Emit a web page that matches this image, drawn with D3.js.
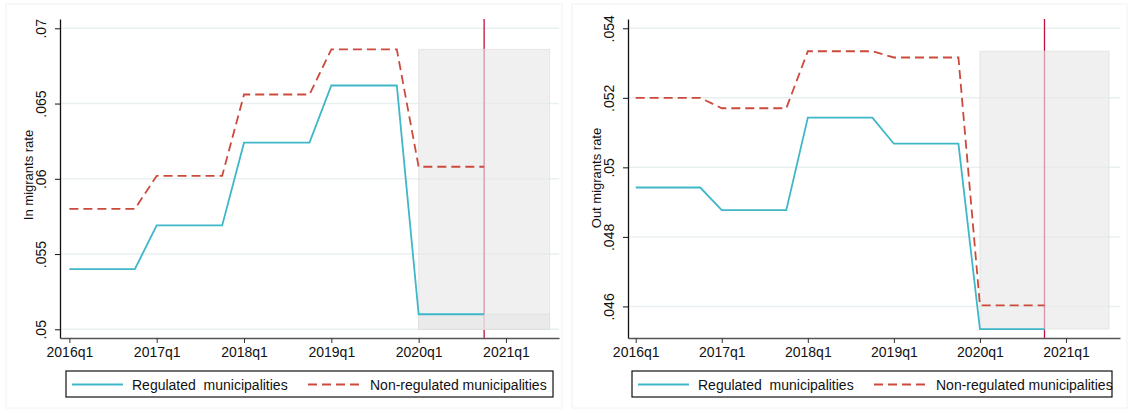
<!DOCTYPE html>
<html>
<head>
<meta charset="utf-8">
<script src="https://cdn.jsdelivr.net/npm/d3@7"></script>
<style>
  body { margin: 0; background: #fff; }
  svg { display: block; font-family: "Liberation Sans", Arial, sans-serif; }
</style>
</head>
<body>
<svg id="chart" width="1131" height="414"></svg>
<script>
// -- Data ----------------------------------------------------
// quarter index 0 = 2016q1
const quarters = d3.range(0, 20);
const xTickValues = [0, 4, 8, 12, 16, 20];
const xTickLabels = ["2016q1", "2017q1", "2018q1", "2019q1", "2020q1", "2021q1"];

const inRegulated = [
  0.0540, 0.0540, 0.0540, 0.0540,
  0.0569, 0.0569, 0.0569, 0.0569,
  0.0624, 0.0624, 0.0624, 0.0624,
  0.0662, 0.0662, 0.0662, 0.0662,
  0.0510, 0.0510, 0.0510, 0.0510
];
const inNonRegulated = [
  0.0580, 0.0580, 0.0580, 0.0580,
  0.0602, 0.0602, 0.0602, 0.0602,
  0.0656, 0.0656, 0.0656, 0.0656,
  0.0686, 0.0686, 0.0686, 0.0686,
  0.0608, 0.0608, 0.0608, 0.0608
];
const outRegulated = [
  0.04942, 0.04942, 0.04942, 0.04942,
  0.04877, 0.04877, 0.04877, 0.04877,
  0.05143, 0.05143, 0.05143, 0.05143,
  0.05068, 0.05068, 0.05068, 0.05068,
  0.04535, 0.04535, 0.04535, 0.04535
];
const outNonRegulated = [
  0.05200, 0.05200, 0.05200, 0.05200,
  0.05170, 0.05170, 0.05170, 0.05170,
  0.05334, 0.05334, 0.05334, 0.05334,
  0.05316, 0.05316, 0.05316, 0.05316,
  0.04603, 0.04603, 0.04603, 0.04603
];

const inTicks = [0.05, 0.055, 0.06, 0.065, 0.07];
const inTickLabels = [".05", ".055", ".06", ".065", ".07"];
const outTicks = [0.046, 0.048, 0.05, 0.052, 0.054];
const outTickLabels = [".046", ".048", ".05", ".052", ".054"];

// shaded period 2020q1..2021q3, marker line at 2020q4
const shadeX = [16, 22];
const markerQuarter = 19;
const inShades = [[0.0500, 0.0686], [0.0500, 0.0510]];
const outShades = [[0.04535, 0.05334]];

const seriesNames = ["Regulated  municipalities", "Non-regulated municipalities"];

// -- Styles --------------------------------------------------
const TEAL = "#3fb7c8";
const RED = "#cc4a3c";
const MARKER = "#c0103c";
const GRID = "#e9f0f1";

const svg = d3.select("#chart");

function panel(opts) {
  const g = svg.append("g");

  const x = d3.scaleLinear().domain(opts.xDomain).range([opts.left, opts.right]);
  const y = d3.scaleLinear().domain(opts.yDomain).range([338, 19]);

  // faint panel frame
  g.append("rect")
    .attr("x", opts.frame[0]).attr("y", 4)
    .attr("width", opts.frame[1] - opts.frame[0]).attr("height", 404)
    .attr("fill", "none").attr("stroke", "#f2f2f2");

  // grid
  g.selectAll(".grid")
    .data(opts.yTicks)
    .join("line")
    .attr("x1", opts.left).attr("x2", opts.right)
    .attr("y1", (d) => y(d)).attr("y2", (d) => y(d))
    .attr("stroke", GRID).attr("stroke-width", 1.5);

  // marker line (under the shading)
  g.append("line")
    .attr("x1", x(markerQuarter)).attr("x2", x(markerQuarter))
    .attr("y1", 19).attr("y2", 338)
    .attr("stroke", MARKER).attr("stroke-width", 1.3);

  // shading
  opts.shades.forEach((s) => {
    g.append("rect")
      .attr("x", x(shadeX[0]))
      .attr("width", x(shadeX[1]) - x(shadeX[0]))
      .attr("y", y(s[1]))
      .attr("height", y(s[0]) - y(s[1]))
      .attr("fill", "#e6e6e6")
      .attr("fill-opacity", 0.62)
      .attr("stroke", "#dedede")
      .attr("stroke-opacity", 0.7);
  });

  const line = d3.line().x((d, i) => x(quarters[i])).y((d) => y(d));

  g.append("path")
    .datum(opts.regulated)
    .attr("d", line)
    .attr("fill", "none").attr("stroke", TEAL).attr("stroke-width", 1.8);

  g.append("path")
    .datum(opts.nonRegulated)
    .attr("d", line)
    .attr("fill", "none").attr("stroke", RED).attr("stroke-width", 1.8)
    .attr("stroke-dasharray", "9,5");

  // y axis
  const yAxis = d3.axisLeft(y)
    .tickValues(opts.yTicks)
    .tickFormat((d, i) => opts.yTickLabels[i])
    .tickSize(5).tickSizeOuter(0);
  const ya = g.append("g").attr("transform", `translate(${opts.left},0)`).call(yAxis);
  ya.select(".domain").attr("stroke", "#111").attr("stroke-width", 1.3);
  ya.selectAll(".tick line").attr("stroke", "#111");
  ya.selectAll(".tick text")
    .attr("font-size", 14).attr("fill", "#111")
    .attr("text-anchor", "middle")
    .attr("dominant-baseline", "central")
    .attr("dy", "0")
    .attr("transform", "rotate(-90) translate(0,-5)")
    .attr("x", 0).attr("y", -14);

  // x axis
  const xAxis = d3.axisBottom(x)
    .tickValues(xTickValues)
    .tickFormat((d, i) => xTickLabels[i])
    .tickSize(5).tickSizeOuter(0);
  const xa = g.append("g").attr("transform", "translate(0,338)").call(xAxis);
  xa.select(".domain").attr("stroke", "#555").attr("stroke-width", 1.3);
  xa.selectAll(".tick line").attr("stroke", "#333");
  xa.selectAll(".tick text").attr("font-size", 14).attr("fill", "#111").attr("dy", "0.9em").attr("y", 6);

  // y title
  g.append("text")
    .attr("transform", `translate(${opts.titleX},${opts.titleY}) rotate(-90)`)
    .attr("text-anchor", "middle")
    .attr("font-size", 13).attr("fill", "#111")
    .text(opts.title);

  // legend
  const lg = g.append("g");
  lg.append("rect")
    .attr("x", opts.legend[0]).attr("y", 371)
    .attr("width", opts.legend[1] - opts.legend[0]).attr("height", 26)
    .attr("fill", "#fff").attr("stroke", "#111").attr("stroke-width", 1.2);
  const lx = opts.legend[0];
  lg.append("line")
    .attr("x1", lx + 6).attr("x2", lx + 57).attr("y1", 384.5).attr("y2", 384.5)
    .attr("stroke", TEAL).attr("stroke-width", 1.8);
  lg.append("text")
    .attr("x", lx + 66).attr("y", 389.5)
    .attr("font-size", 14).attr("fill", "#111")
    .attr("xml:space", "preserve").style("white-space", "pre")
    .text(seriesNames[0]);
  lg.append("line")
    .attr("x1", lx + 242).attr("x2", lx + 295).attr("y1", 384.5).attr("y2", 384.5)
    .attr("stroke", RED).attr("stroke-width", 1.8).attr("stroke-dasharray", "9,5");
  lg.append("text")
    .attr("x", lx + 304).attr("y", 389.5)
    .attr("font-size", 14).attr("fill", "#111")
    .text(seriesNames[1]);
}

panel({
  left: 60, right: 559, frame: [6, 562],
  xDomain: [-0.43, 22.43],
  yDomain: [0.049422, 0.070618],
  yTicks: inTicks, yTickLabels: inTickLabels,
  shades: inShades,
  regulated: inRegulated, nonRegulated: inNonRegulated,
  title: "In migrants rate", titleX: 33, titleY: 175,
  legend: [66, 553]
});

panel({
  left: 628, right: 1120, frame: [572, 1127],
  xDomain: [-0.358, 22.51],
  yDomain: [0.045092, 0.054267],
  yTicks: outTicks, yTickLabels: outTickLabels,
  shades: outShades,
  regulated: outRegulated, nonRegulated: outNonRegulated,
  title: "Out migrants rate", titleX: 601, titleY: 178,
  legend: [632, 1112]
});
</script>
</body>
</html>
